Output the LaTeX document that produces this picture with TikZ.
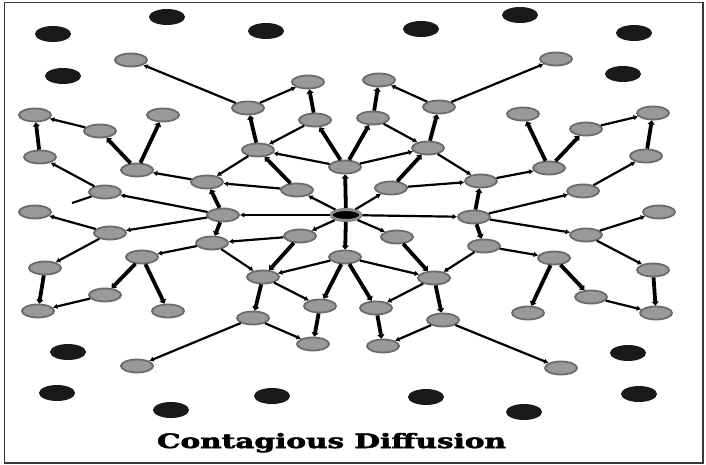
\documentclass[tikz,border=0pt]{standalone}
\usepackage{fontspec}
\newfontfamily\titlefont{DejaVu Serif}[BoldFeatures={FakeBold=2.5}]
\usetikzlibrary{shapes.geometric,arrows.meta}
\begin{document}
\begin{tikzpicture}[x=1pt,y=-1pt,
  gn/.style={ellipse,draw=black!58,fill=black!40,line width=1.8pt,minimum width=32pt,minimum height=13pt,inner sep=0pt},
  bn/.style={ellipse,fill=black!90,minimum width=36pt,minimum height=16pt,inner sep=0pt},
  ln/.style={line width=2.2pt,-{Latex[length=4.5pt,width=5.5pt]}},
  tk/.style={line width=3.8pt,-{Triangle[length=4pt,width=7pt]}},
  plain/.style={line width=2.2pt}
]
\useasboundingbox (0,0) rectangle (706,465);
\fill[white] (0,0) rectangle (706,465);
\draw[line width=1.8pt,black!78] (4.5,2.5) rectangle (703,463);
% black dots
\foreach \x/\y [count=\i] in {53/34,167/17,266/31,421/29,520/15,634/33,63/76,623/74,68/352,57/393,171/410,272/396,426/397,524/412,628/353,639/394}
  \node[bn] (b\i) at (\x,\y) {};
% center
\node[ellipse,fill=black,draw=black!45,line width=3pt,minimum width=30pt,minimum height=11pt,inner sep=0pt] (c0) at (346,215) {};
% upper left
\node[gn] (n1) at (131,60) {};
\node[gn] (n2) at (248,108) {};
\node[gn] (n3) at (308,82) {};
\node[gn] (n4) at (315,120) {};
\node[gn] (n5) at (258,150) {};
\node[gn] (n6) at (35,115) {};
\node[gn] (n7) at (100,131) {};
\node[gn] (n8) at (163,115) {};
\node[gn] (n9) at (40,157) {};
\node[gn] (n10) at (137,170) {};
\node[gn] (n11) at (207,182) {};
\node[gn] (n12) at (297,190) {};
\node[gn] (n13) at (345,167) {};
\node[gn] (n14) at (105,192) {};
\node[gn] (n15) at (35,212) {};
\node[gn] (n16) at (223,215) {};
\node[gn] (n17) at (110,233) {};
\node[gn] (n18) at (300,236) {};
\coordinate (stub) at (72,203);
% upper right
\node[gn] (m1) at (556,59) {};
\node[gn] (m2) at (379,80) {};
\node[gn] (m3) at (439,107) {};
\node[gn] (m4) at (373,118) {};
\node[gn] (m5) at (428,148) {};
\node[gn] (m6) at (523,114) {};
\node[gn] (m7) at (586,129) {};
\node[gn] (m8) at (653,113) {};
\node[gn] (m9) at (646,156) {};
\node[gn] (m10) at (549,168) {};
\node[gn] (m11) at (481,181) {};
\node[gn] (m12) at (391,188) {};
\node[gn] (m13) at (583,191) {};
\node[gn] (m14) at (474,217) {};
\node[gn] (m15) at (659,212) {};
\node[gn] (m16) at (586,235) {};
\node[gn] (m17) at (397,237) {};
% lower left
\node[gn] (p1) at (212,243) {};
\node[gn] (p2) at (142,257) {};
\node[gn] (p3) at (45,268) {};
\node[gn] (p4) at (263,277) {};
\node[gn] (p5) at (345,257) {};
\node[gn] (p6) at (105,295) {};
\node[gn] (p7) at (38,311) {};
\node[gn] (p8) at (168,311) {};
\node[gn] (p9) at (320,306) {};
\node[gn] (p10) at (253,318) {};
\node[gn] (p11) at (313,344) {};
\node[gn] (p12) at (137,366) {};
% lower right
\node[gn] (q1) at (484,246) {};
\node[gn] (q2) at (434,278) {};
\node[gn] (q3) at (554,258) {};
\node[gn] (q4) at (653,270) {};
\node[gn] (q5) at (376,308) {};
\node[gn] (q6) at (443,320) {};
\node[gn] (q7) at (591,297) {};
\node[gn] (q8) at (528,313) {};
\node[gn] (q9) at (656,313) {};
\node[gn] (q10) at (383,346) {};
\node[gn] (q11) at (561,368) {};
% thin connectors
\foreach \a/\b in {n2/n1,n2/n3,n4/n5,n13/n5,n5/n11,n12/n11,c0/n12,n11/n10,n7/n6,n14/n9,n16/n14,n17/n15,n16/n17,c0/n16,c0/n18,n13/m5,
  m3/m1,m3/m2,m4/m5,m5/m11,m12/m11,c0/m12,m11/m10,m7/m8,m13/m9,m14/m13,c0/m14,m14/m16,m16/m15,c0/m17,
  q1/q2,q1/q3,p5/q2,q2/q5,q6/q10,q6/q11,q7/q9,m16/q4,
  n18/p1,p1/p4,p1/p2,p6/p7,n17/p3,p5/p4,p4/p9,p10/p11,p10/p12}
  \draw[ln] (\a) -- (\b);
\draw[plain] (n14) -- (stub);
% thick connectors
\foreach \a/\b in {n5/n2,n4/n3,n13/n4,n12/n5,n16/n11,n10/n7,n10/n8,n9/n6,c0/n13,n13/m4,
  m4/m2,m5/m3,m12/m5,m14/m11,m10/m6,m10/m7,m9/m8,m14/q1,
  m17/q2,p5/q5,q2/q6,q5/q10,q3/q8,q3/q7,q4/q9,c0/p5,
  n18/p4,n16/p1,p2/p6,p2/p8,p3/p7,p5/p9,p4/p10,p9/p11}
  \draw[tk] (\a) -- (\b);
% title
\node[anchor=base,inner sep=0pt] (title) at (331.5,448) {\resizebox{349pt}{15pt}{\titlefont\bfseries Contagious Diffusion}};
\end{tikzpicture}
\end{document}
